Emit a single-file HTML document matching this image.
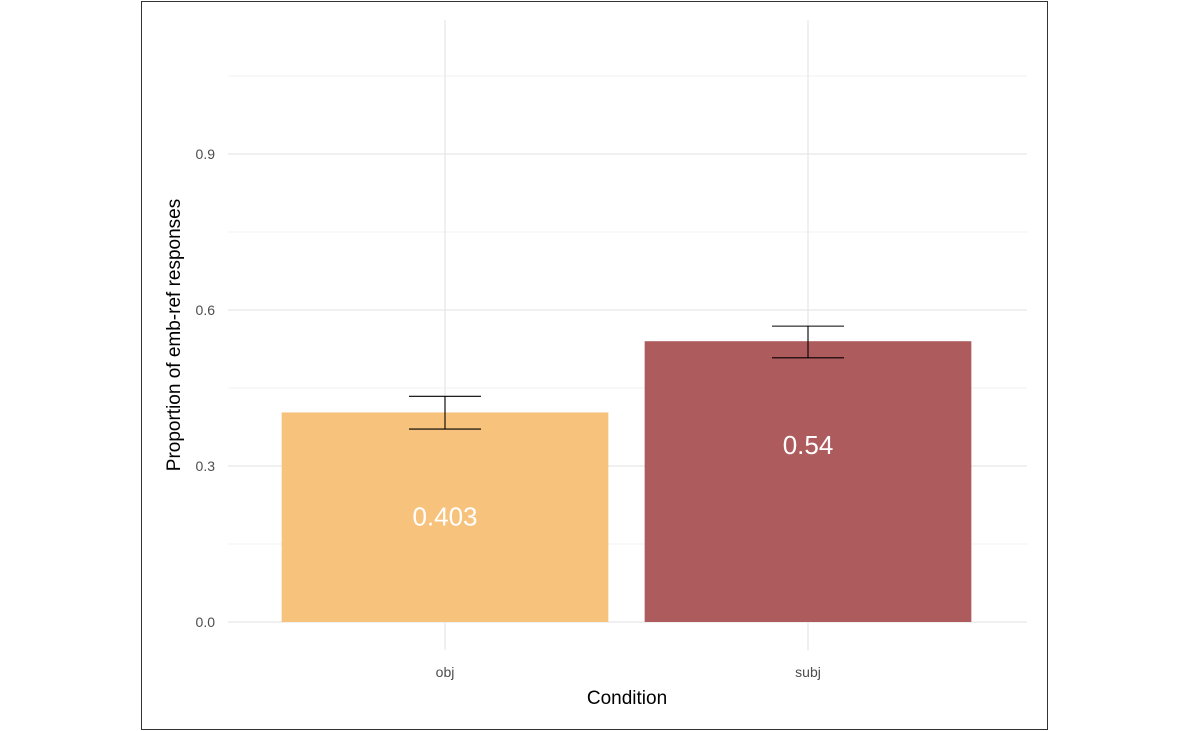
<!DOCTYPE html>
<html><head><meta charset="utf-8"><style>
html,body{margin:0;padding:0;background:#fff;width:1200px;height:731px;overflow:hidden}
text{font-family:"Liberation Sans",Arial,sans-serif}
</style></head><body>
<svg id="chart" width="1200" height="731" xmlns="http://www.w3.org/2000/svg">
<rect x="141.5" y="1.5" width="906" height="728" fill="#fff" stroke="#333" stroke-width="1"/>
<g id="grid"></g><g id="bars"></g>
<text x="627" y="704" font-size="19" text-anchor="middle" fill="#000">Condition</text>
<text transform="translate(180,335) rotate(-90)" font-size="19" text-anchor="middle" fill="#000">Proportion of emb-ref responses</text>
</svg>
<script>
const categories=["obj","subj"];
const values=[0.403,0.54];
const errLow=[0.371,0.508];
const errHigh=[0.434,0.569];
const labels=["0.403","0.54"];
const colors=["#f7c27c","#ae5b5d"];
const yTicks=[0,0.3,0.6,0.9];
const yTickLabels=["0.0","0.3","0.6","0.9"];
const yMinor=[0.15,0.45,0.75,1.05];
const NS="http://www.w3.org/2000/svg";
const x0=228,x1=1027,band=363,xStart=263.5;
const y=v=>622-v*520;
const xc=i=>xStart+band*(i+0.5);
function mk(t,a,p){const e=document.createElementNS(NS,t);for(const k in a)e.setAttribute(k,a[k]);p.appendChild(e);return e;}
const g=document.getElementById('grid'),b=document.getElementById('bars');
yMinor.forEach(v=>{const l=mk('line',{x1:x0,x2:x1,y1:y(v),y2:y(v),stroke:'#f0f0f0','stroke-width':1},g);

});
yTicks.forEach((v,i)=>{const l=mk('line',{x1:x0,x2:x1,y1:y(v),y2:y(v),stroke:'#e6e6e6','stroke-width':1.2},g);


const t=mk('text',{x:215,y:y(v)+5,'font-size':14,'text-anchor':'end',fill:'#4d4d4d'},g);t.textContent=yTickLabels[i];

});
categories.forEach((c,i)=>{const l=mk('line',{x1:xc(i),x2:xc(i),y1:20,y2:650,stroke:'#e6e6e6','stroke-width':1.2},g);


const t=mk('text',{x:xc(i),y:677,'font-size':14,'text-anchor':'middle',fill:'#4d4d4d'},g);t.textContent=c;

});
categories.forEach((c,i)=>{const w=band*0.9,cx=xc(i);
const r=mk('rect',{x:cx-w/2,y:y(values[i]),width:w,height:y(0)-y(values[i]),fill:colors[i]},b);


const eg=mk('g',{stroke:'#000','stroke-width':1.1},b);


mk('line',{x1:cx,x2:cx,y1:y(errLow[i]),y2:y(errHigh[i])},eg);
mk('line',{x1:cx-36,x2:cx+36,y1:y(errLow[i]),y2:y(errLow[i])},eg);
mk('line',{x1:cx-36,x2:cx+36,y1:y(errHigh[i]),y2:y(errHigh[i])},eg);
const t=mk('text',{x:cx,y:y(values[i]-0.2)+9,'font-size':26,'text-anchor':'middle',fill:'#fff'},b);t.textContent=labels[i];

});
</script>
</body></html>
